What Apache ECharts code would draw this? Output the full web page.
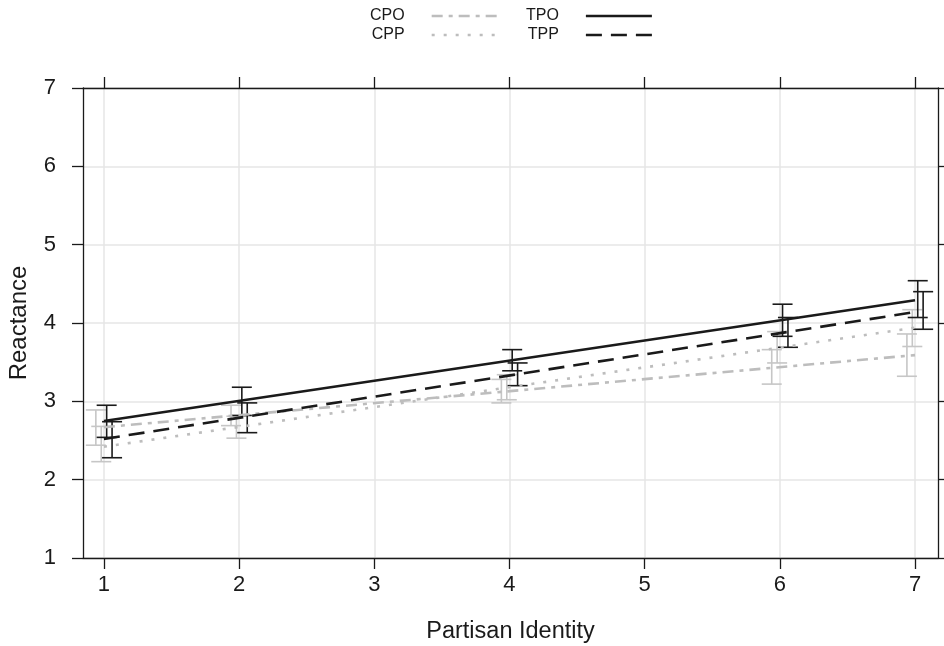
<!DOCTYPE html>
<html>
<head>
<meta charset="utf-8">
<script src="https://cdn.jsdelivr.net/npm/echarts@6/dist/echarts.min.js"></script>
<style>
  html, body { margin: 0; padding: 0; background: #fff; }
  #chart { width: 944px; height: 646px; }
</style>
</head>
<body>
<div id="chart"></div>
<script>
// fitted lines, value at x = 1 and x = 7
const lineX = [1, 7]
const tpoLine = [2.75, 4.29]
const tppLine = [2.52, 4.14]
const cpoLine = [2.67, 3.59]
const cppLine = [2.42, 3.94]

// error bars at the observed partisan identity values
const barX = [1, 2, 4, 6, 7]
const tpoLow = [2.54, 2.82, 3.39, 3.83, 4.07]
const tpoHigh = [2.95, 3.18, 3.66, 4.24, 4.54]
const tppLow = [2.28, 2.60, 3.20, 3.69, 3.92]
const tppHigh = [2.74, 2.98, 3.49, 4.07, 4.40]
const cpoLow = [2.44, 2.69, 2.98, 3.22, 3.32]
const cpoHigh = [2.89, 2.95, 3.28, 3.66, 3.86]
const cppLow = [2.23, 2.53, 3.02, 3.49, 3.70]
const cppHigh = [2.68, 2.81, 3.34, 3.89, 4.17]

const xTicks = [1, 2, 3, 4, 5, 6, 7]

const BLACK = '#1a1a1a'
const GRAY = '#bdbdbd'
const GRAY_CI = '#c6c6c6'
const FONT = 'Liberation Sans'

const pairs = (xs, ys) => xs.map((x, i) => [x, ys[i]])
const bars = (shift, lo, hi) => barX.map((x, i) => [x + shift, lo[i], hi[i]])

const ciRender = (color) => (params, api) => {
  const x = api.value(0)
  const top = api.coord([x, api.value(2)])
  const bot = api.coord([x, api.value(1)])
  const w = 10
  const style = { stroke: color, lineWidth: 1.6 }
  return {
    type: 'group',
    children: [
      { type: 'line', shape: { x1: top[0], y1: top[1], x2: bot[0], y2: bot[1] }, style },
      { type: 'line', shape: { x1: top[0] - w, y1: top[1], x2: top[0] + w, y2: top[1] }, style },
      { type: 'line', shape: { x1: bot[0] - w, y1: bot[1], x2: bot[0] + w, y2: bot[1] }, style }
    ]
  }
}

const lineSeries = (name, data, color, type) => ({
  name,
  type: 'line',
  data: pairs(lineX, data),
  symbol: 'none',
  z: 5,
  lineStyle: { color, width: 2.6, type },
  itemStyle: { color }
})

const ciSeries = (name, data, color) => ({
  name,
  type: 'custom',
  data,
  renderItem: ciRender(color),
  encode: { x: 0, y: [1, 2] },
  z: 3
})

const chart = echarts.init(document.getElementById('chart'))

const legendBase = {
  orient: 'vertical',
  top: 3,
  align: 'right',
  itemWidth: 66,
  itemHeight: 12,
  itemGap: 3,
  itemStyle: { opacity: 0 },
  lineStyle: { width: 2.6 },
  textStyle: { fontFamily: FONT, fontSize: 16, color: BLACK, padding: [0, 22, 0, 0] }
}

chart.setOption({
  animation: false,
  backgroundColor: '#fff',
  legend: [
    Object.assign({}, legendBase, { left: 365, data: ['CPO', 'CPP'] }),
    Object.assign({}, legendBase, { left: 521, data: ['TPO', 'TPP'] })
  ],
  grid: { left: 83, right: 6, top: 88, bottom: 88, outerBoundsMode: 'none' },
  xAxis: [
    {
      type: 'value',
      min: 0.845,
      max: 7.17,
      name: 'Partisan Identity',
      nameLocation: 'middle',
      nameGap: 62,
      nameTextStyle: { fontFamily: FONT, fontSize: 23.5, color: BLACK },
      axisLine: { lineStyle: { color: BLACK, width: 1.3 } },
      axisTick: { customValues: xTicks, length: 11, lineStyle: { color: BLACK, width: 1.3 } },
      axisLabel: { customValues: xTicks, margin: 16, fontFamily: FONT, fontSize: 22, color: BLACK },
      splitLine: { show: true, lineStyle: { color: '#e6e6e6', width: 1.5 } }
    },
    {
      type: 'value',
      position: 'top',
      min: 0.845,
      max: 7.17,
      axisLine: { lineStyle: { color: BLACK, width: 1.3 } },
      axisTick: { customValues: xTicks, length: 11, lineStyle: { color: BLACK, width: 1.3 } },
      axisLabel: { show: false },
      splitLine: { show: false }
    }
  ],
  yAxis: [
    {
      type: 'value',
      min: 1,
      max: 7,
      interval: 1,
      name: 'Reactance',
      nameLocation: 'middle',
      nameGap: 52,
      nameTextStyle: { fontFamily: FONT, fontSize: 24, color: BLACK },
      axisLine: { show: true, lineStyle: { color: BLACK, width: 1.3 } },
      axisTick: { show: true, length: 11, lineStyle: { color: BLACK, width: 1.3 } },
      axisLabel: { margin: 27, fontFamily: FONT, fontSize: 22, color: BLACK },
      splitLine: { show: true, lineStyle: { color: '#e6e6e6', width: 1.5 } }
    },
    {
      type: 'value',
      position: 'right',
      min: 1,
      max: 7,
      interval: 1,
      axisLine: { show: true, lineStyle: { color: BLACK, width: 1.3 } },
      axisTick: { show: true, length: 6, lineStyle: { color: BLACK, width: 1.3 } },
      axisLabel: { show: false },
      splitLine: { show: false }
    }
  ],
  series: [
    ciSeries('CPO CI', bars(-0.06, cpoLow, cpoHigh), GRAY_CI),
    ciSeries('CPP CI', bars(-0.02, cppLow, cppHigh), GRAY_CI),
    ciSeries('TPO CI', bars(0.02, tpoLow, tpoHigh), BLACK),
    ciSeries('TPP CI', bars(0.06, tppLow, tppHigh), BLACK),
    lineSeries('CPO', cpoLine, GRAY, [11, 6, 4, 6]),
    lineSeries('CPP', cppLine, GRAY, [3, 9]),
    lineSeries('TPO', tpoLine, BLACK, 'solid'),
    lineSeries('TPP', tppLine, BLACK, [16, 9])
  ]
})

window.addEventListener('resize', () => chart.resize())
</script>
</body>
</html>
